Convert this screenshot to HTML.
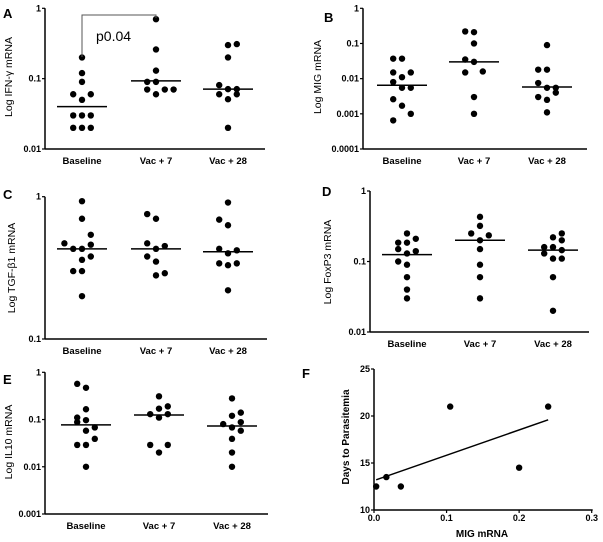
<!DOCTYPE html>
<html><head><meta charset="utf-8"><style>
html,body{margin:0;padding:0;background:#fff;}
svg{display:block;font-family:"Liberation Sans",Arial,sans-serif;}
</style></head><body>
<svg id="fig" width="603" height="542" viewBox="0 0 603 542"></svg>
<script>
const categories = ["Baseline","Vac + 7","Vac + 28"];
// Panel A IFN-gamma
const aBaseVals=[0.2,0.12,0.09,0.06,0.06,0.05,0.03,0.03,0.03,0.02,0.02,0.02];
const aBaseSlots=[0,0,0,-1,1,0,-1,0,1,-1,0,1];
const aV7Vals=[0.7,0.26,0.13,0.09,0.09,0.07,0.07,0.07,0.06];
const aV7Slots=[0,0,0,-1,0,-1,1,2,0];
const aV28Vals=[0.3,0.31,0.2,0.081,0.071,0.071,0.06,0.06,0.051,0.02];
const aV28Slots=[0,1,0,-1,0,1,-1,1,0,0];
const aMedians=[0.04,0.093,0.071];
// Panel B MIG
const bBaseVals=[0.037,0.037,0.015,0.015,0.011,0.008,0.0055,0.0055,0.0026,0.0017,0.001,0.00065];
const bBaseSlots=[-1,0,-1,1,0,-1,0,1,-1,0,1,-1];
const bV7Vals=[0.22,0.21,0.1,0.035,0.03,0.015,0.016,0.003,0.001];
const bV7Slots=[-1,0,0,-1,0,-1,1,0,0];
const bV28Vals=[0.09,0.018,0.018,0.0075,0.0055,0.0055,0.004,0.003,0.0025,0.0011];
const bV28Slots=[0,-1,0,-1,0,1,1,-1,0,0];
const bMedians=[0.0065,0.03,0.0058];
// Panel C TGF-beta1
const cBaseVals=[0.93,0.70,0.54,0.47,0.46,0.43,0.43,0.38,0.36,0.30,0.30,0.20];
const cBaseSlots=[0,0,1,-2,1,-1,0,1,0,-1,0,0];
const cV7Vals=[0.755,0.70,0.47,0.45,0.43,0.38,0.35,0.29,0.28];
const cV7Slots=[-1,0,-1,1,0,-1,0,1,0];
const cV28Vals=[0.91,0.69,0.63,0.43,0.42,0.40,0.34,0.34,0.33,0.22];
const cV28Slots=[0,-1,0,-1,1,0,-1,1,0,0];
const cMedians=[0.43,0.43,0.41];
// Panel D FoxP3
const dBaseVals=[0.25,0.21,0.185,0.185,0.15,0.14,0.13,0.10,0.09,0.06,0.04,0.03];
const dBaseSlots=[0,1,-1,0,-1,1,0,-1,0,0,0,0];
const dV7Vals=[0.43,0.32,0.25,0.235,0.20,0.15,0.09,0.06,0.03];
const dV7Slots=[0,0,-1,1,0,0,0,0,0];
const dV28Vals=[0.25,0.22,0.2,0.16,0.16,0.145,0.13,0.11,0.11,0.06,0.02];
const dV28Slots=[1,0,1,-1,0,1,-1,0,1,0,0];
const dMedians=[0.125,0.2,0.145];
// Panel E IL10
const eBaseVals=[0.57,0.47,0.165,0.11,0.097,0.088,0.068,0.058,0.039,0.029,0.029,0.01];
const eBaseSlots=[-1,0,0,-1,0,-1,1,0,1,-1,0,0];
const eV7Vals=[0.31,0.19,0.17,0.13,0.13,0.11,0.029,0.029,0.02];
const eV7Slots=[0,1,0,-1,1,0,-1,1,0];
const eV28Vals=[0.28,0.14,0.12,0.088,0.08,0.068,0.058,0.039,0.02,0.01];
const eV28Slots=[0,1,0,1,-1,0,1,0,0,0];
const eMedians=[0.077,0.125,0.073];
// Panel F
const fX=[0.003,0.017,0.037,0.105,0.2,0.24];
const fY=[12.5,13.5,12.5,21,14.5,21];
const fXTicks=["0.0","0.1","0.2","0.3"];
const fYTicks=["10","15","20","25"];

const NS="http://www.w3.org/2000/svg";
const svg=document.getElementById('fig');
function mk(tag,attrs,parent,text){const e=document.createElementNS(NS,tag);for(const k in attrs)e.setAttribute(k,attrs[k]);if(text!==undefined)e.textContent=text;(parent||svg).appendChild(e);return e;}

function logPanel(p){
  const g=mk('g',{});
  
  
  const decades=Math.log10(p.topVal)-Math.log10(p.botVal);
  const y=v=>p.yTop+(Math.log10(p.topVal)-Math.log10(v))/decades*(p.yBot-p.yTop);
  const ax=mk('line',{x1:p.ax,y1:p.yTop,x2:p.ax,y2:p.yBot,stroke:'#000','stroke-width':1.5},g);
  
  const xa=mk('line',{x1:p.ax,y1:p.yBot,x2:p.xEnd,y2:p.yBot,stroke:'#000','stroke-width':1.5},g);
  
  p.ticks.forEach(t=>{
    const ty=y(t);
    mk('line',{x1:p.ax-3,y1:ty,x2:p.ax,y2:ty,stroke:'#000','stroke-width':1.2},g);
    const tl=mk('text',{x:p.ax-4,y:ty+3,'text-anchor':'end','font-size':9,'font-weight':'bold'},g,String(t));
    
  });
  categories.forEach((c,i)=>{
    const cl=mk('text',{x:p.centers[i],y:p.catY,'text-anchor':'middle','font-size':9.5,'font-weight':'bold'},g,c);
    
  });
  p.groups.forEach((gr,i)=>{
    gr.vals.forEach((v,j)=>{
      const d=mk('circle',{cx:p.centers[i]+gr.slots[j]*8.8,cy:y(v),r:3.2,fill:'#000'},g);
      
    });
    const m=mk('line',{x1:p.centers[i]-25,x2:p.centers[i]+25,y1:y(p.medians[i]),y2:y(p.medians[i]),stroke:'#000','stroke-width':1.5},g);
    
  });
  const lt=mk('text',{x:p.letter[0],y:p.letter[1],'font-size':13,'font-weight':'bold'},g,p.key.toUpperCase());
  
  const yl=mk('text',{x:0,y:0,'text-anchor':'middle','font-size':10.5,transform:`translate(${p.ylab[0]},${p.ylab[1]}) rotate(-90)`},g,p.ytitle);
  
  return {g,y};
}

const A=logPanel({key:'a',ax:45,xEnd:265,yTop:8.3,yBot:149,topVal:1,botVal:0.01,ticks:[1,0.1,0.01],centers:[82,156,228],catY:164,
 groups:[{vals:aBaseVals,slots:aBaseSlots},{vals:aV7Vals,slots:aV7Slots},{vals:aV28Vals,slots:aV28Slots}],medians:aMedians,letter:[3,18],ylab:[12,77],ytitle:'Log IFN-γ mRNA'});
const br=mk('polyline',{points:`82,57 82,15 156,15 156,18`,fill:'none',stroke:'#555','stroke-width':1},A.g);

const pv=mk('text',{x:96,y:41,'font-size':14},A.g,'p0.04');


logPanel({key:'b',ax:363,xEnd:587,yTop:8.3,yBot:149,topVal:1,botVal:0.0001,ticks:[1,0.1,0.01,0.001,0.0001],centers:[402,474,547],catY:164,
 groups:[{vals:bBaseVals,slots:bBaseSlots},{vals:bV7Vals,slots:bV7Slots},{vals:bV28Vals,slots:bV28Slots}],medians:bMedians,letter:[324,22],ylab:[321,77],ytitle:'Log MIG mRNA'});
logPanel({key:'c',ax:45,xEnd:267,yTop:196.7,yBot:339,topVal:1,botVal:0.1,ticks:[1,0.1],centers:[82,156,228],catY:354,
 groups:[{vals:cBaseVals,slots:cBaseSlots},{vals:cV7Vals,slots:cV7Slots},{vals:cV28Vals,slots:cV28Slots}],medians:cMedians,letter:[3,199],ylab:[15,268],ytitle:'Log TGF-β1 mRNA'});
logPanel({key:'d',ax:370,xEnd:589,yTop:191,yBot:332,topVal:1,botVal:0.01,ticks:[1,0.1,0.01],centers:[407,480,553],catY:347,
 groups:[{vals:dBaseVals,slots:dBaseSlots},{vals:dV7Vals,slots:dV7Slots},{vals:dV28Vals,slots:dV28Slots}],medians:dMedians,letter:[322,196],ylab:[331,262],ytitle:'Log FoxP3 mRNA'});
logPanel({key:'e',ax:45,xEnd:268,yTop:372.3,yBot:514,topVal:1,botVal:0.001,ticks:[1,0.1,0.01,0.001],centers:[86,159,232],catY:529,
 groups:[{vals:eBaseVals,slots:eBaseSlots},{vals:eV7Vals,slots:eV7Slots},{vals:eV28Vals,slots:eV28Slots}],medians:eMedians,letter:[3,384],ylab:[12,442],ytitle:'Log IL10 mRNA'});

(function(){
  const g=mk('g',{});
  
  const x0=374,x1=591.7,y0=510,y1=369;
  const sx=v=>x0+v/0.3*(x1-x0);
  const sy=v=>y0-(v-10)/15*(y0-y1);
  const ya=mk('line',{x1:x0,y1:y1,x2:x0,y2:y0,stroke:'#000','stroke-width':1.5},g);
  
  const xa=mk('line',{x1:x0,y1:y0,x2:x1+1,y2:y0,stroke:'#000','stroke-width':1.5},g);
  
  fXTicks.forEach(t=>{
    const tx=sx(parseFloat(t));
    mk('line',{x1:tx,y1:y0,x2:tx,y2:y0+3,stroke:'#000','stroke-width':1.2},g);
    const l=mk('text',{x:tx,y:y0+11,'text-anchor':'middle','font-size':9,'font-weight':'bold'},g,t);
    
  });
  fYTicks.forEach(t=>{
    const ty=sy(parseFloat(t));
    mk('line',{x1:x0-3,y1:ty,x2:x0,y2:ty,stroke:'#000','stroke-width':1.2},g);
    const l=mk('text',{x:x0-4,y:ty+3,'text-anchor':'end','font-size':9,'font-weight':'bold'},g,t);
    
  });
  const n=fX.length;const mx=fX.reduce((a,b)=>a+b,0)/n,my=fY.reduce((a,b)=>a+b,0)/n;
  let sxy=0,sxx=0;for(let i=0;i<n;i++){sxy+=(fX[i]-mx)*(fY[i]-my);sxx+=(fX[i]-mx)**2;}
  const slope=sxy/sxx,ic=my-slope*mx;
  const xmin=Math.min(...fX),xmax=Math.max(...fX);
  const rl=mk('line',{x1:sx(xmin),y1:sy(ic+slope*xmin),x2:sx(xmax),y2:sy(ic+slope*xmax),stroke:'#000','stroke-width':1.5},g);
  
  fX.forEach((v,i)=>{
    const d=mk('circle',{cx:sx(v),cy:sy(fY[i]),r:3.2,fill:'#000'},g);
    
  });
  const lt=mk('text',{x:302,y:378,'font-size':13,'font-weight':'bold'},g,'F');
  
  const xt=mk('text',{x:482,y:537,'text-anchor':'middle','font-size':10,'font-weight':'bold'},g,'MIG mRNA');
  
  const yt=mk('text',{x:0,y:0,'text-anchor':'middle','font-size':10,'font-weight':'bold',transform:'translate(349,437) rotate(-90)'},g,'Days to Parasitemia');
  
})();
</script>
</body></html>
